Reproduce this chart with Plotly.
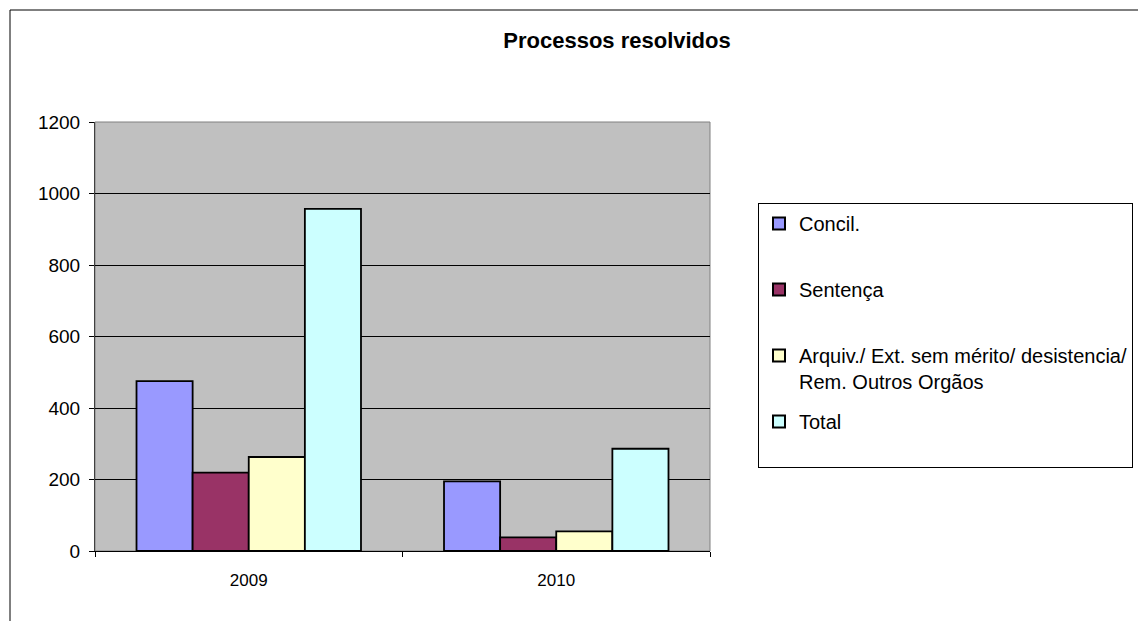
import plotly.graph_objects as go

years = ["2009", "2010"]
series_names = ["Concil.<br> ", "Sentença<br> ",
                "Arquiv./ Ext. sem mérito/ desistencia/<br>Rem. Outros Orgãos", "Total<br> "]
concil = [475, 195]
sentenca = [219, 38]
arquiv = [263, 55]
total = [957, 286]
colors = ["#9999FF", "#993366", "#FFFFCC", "#CCFFFF"]

OFF = 8  # page body margin
W, H = 1146 - OFF, 621 - OFF
L, R, T, B = 95 - OFF, 710 - OFF, 122 - OFF, 551 - OFF

fig = go.Figure()
for i, (name, vals) in enumerate(zip(series_names, [concil, sentenca, arquiv, total])):
    fig.add_trace(go.Bar(
        x=years, y=vals, name=name, legendgroup=f"g{i}",
        marker=dict(color=colors[i], line=dict(color="black", width=1.8)),
    ))

def px_x(p):  # screen px -> paper
    return (p - OFF - L) / (R - L)

def px_y(p):
    return (B - (p - OFF)) / (B - T)

fig.update_layout(
    width=W, height=H,
    margin=dict(l=L, r=W - R, t=T, b=H - B),
    paper_bgcolor="white",
    plot_bgcolor="#C0C0C0",
    barmode="group",
    bargap=0.27,
    bargroupgap=0,
    font=dict(family="Liberation Sans, Arial, sans-serif", size=17, color="black"),
    title=dict(text="<b>Processos resolvidos</b>", font=dict(size=22),
               xref="paper", x=px_x(617), xanchor="center",
               yref="container", y=1 - (40 - OFF) / H, yanchor="middle"),
    legend=dict(x=px_x(758), y=px_y(203), xanchor="left", yanchor="top",
                bordercolor="black", borderwidth=1, bgcolor="white",
                tracegroupgap=11, valign="top", itemsizing="constant",
                font=dict(size=20)),
    showlegend=True,
)
fig.update_xaxes(
    showline=True, linecolor="black", linewidth=1,
    ticks="outside", ticklen=5, tickcolor="black", tickson="boundaries",
    showgrid=False, tickfont=dict(size=17), ticklabelstandoff=14,
)
fig.update_yaxes(
    range=[0, 1200], dtick=200, showline=True, linecolor="#404040", linewidth=1,
    ticks="outside", ticklen=5, tickcolor="black",
    showgrid=True, gridcolor="black", gridwidth=1, zeroline=False,
    tickfont=dict(size=19), ticklabelstandoff=5,
)
# plot area frame (top and right) and outer chart border
fig.add_shape(type="rect", xref="paper", yref="paper", x0=0, x1=1, y0=0, y1=1,
              line=dict(color="#808080", width=1), layer="below")
fig.add_shape(type="rect", xref="paper", yref="paper",
              x0=px_x(10), x1=px_x(1170), y0=px_y(660), y1=px_y(10),
              line=dict(color="black", width=1))

fig.write_html("out.html")
